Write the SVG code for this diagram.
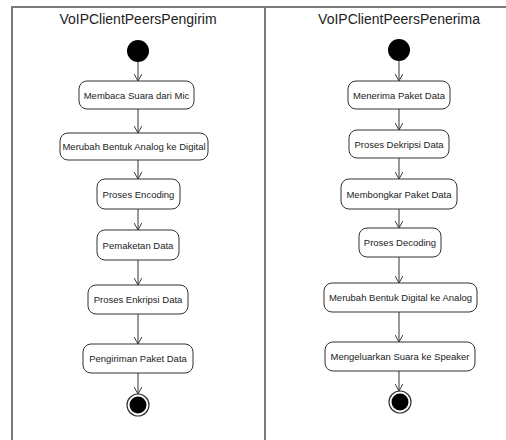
<svg xmlns="http://www.w3.org/2000/svg" width="506" height="440" viewBox="0 0 506 440">
<defs>
<style>
.frame{fill:none;stroke:#7a7a7a;stroke-width:2}
.act{fill:#fff;stroke:#333;stroke-width:1}
.lbl{font-family:"Liberation Sans",Arial,sans-serif;font-size:9.5px;fill:#222;text-anchor:middle;dominant-baseline:central}
.title{font-family:"Liberation Sans",Arial,sans-serif;font-size:14px;fill:#222;text-anchor:middle}
.edge{stroke:#333;stroke-width:1;fill:none;marker-end:url(#arr)}
</style>
<marker id="arr" viewBox="0 0 10 10" refX="9" refY="5" markerWidth="8" markerHeight="8" markerUnits="userSpaceOnUse" orient="auto">
<path d="M0,0 L9,5 L0,10" fill="none" stroke="#333" stroke-width="1.2"/>
</marker>
</defs>
<rect width="506" height="440" fill="#fff"/>
<g id="frame">
<path class="frame" d="M12,441 V7 H506 M265,7 V441"/>
<text class="title" x="138" y="23.5">VoIPClientPeersPengirim</text>
<text class="title" x="399" y="23.5">VoIPClientPeersPenerima</text>
</g>
<g id="connectors">
<line class="edge" x1="138" y1="62" x2="138" y2="81"/>
<line class="edge" x1="138" y1="109" x2="138" y2="133"/>
<line class="edge" x1="138" y1="160" x2="138" y2="179"/>
<line class="edge" x1="138" y1="209" x2="138" y2="230"/>
<line class="edge" x1="138" y1="260" x2="138" y2="285"/>
<line class="edge" x1="138" y1="314" x2="138" y2="344"/>
<line class="edge" x1="138" y1="373" x2="138" y2="394"/>
<line class="edge" x1="399" y1="61" x2="399" y2="81"/>
<line class="edge" x1="399" y1="109" x2="399" y2="130"/>
<line class="edge" x1="399" y1="158" x2="399" y2="179"/>
<line class="edge" x1="399" y1="209" x2="399" y2="228"/>
<line class="edge" x1="399" y1="257" x2="399" y2="283"/>
<line class="edge" x1="399" y1="312" x2="399" y2="342"/>
<line class="edge" x1="399" y1="371" x2="399" y2="391"/>
</g>
<g id="startL"><circle cx="138" cy="51" r="11" fill="#000"/></g>
<g id="a1"><rect class="act" x="79" y="81" width="115" height="28" rx="8"/><text class="lbl" x="136.5" y="95">Membaca Suara dari Mic</text></g>
<g id="a2"><rect class="act" x="60" y="133" width="148" height="27" rx="8"/><text class="lbl" x="134" y="146.5">Merubah Bentuk Analog ke Digital</text></g>
<g id="a3"><rect class="act" x="97" y="179" width="83" height="30" rx="8"/><text class="lbl" x="138.5" y="194">Proses Encoding</text></g>
<g id="a4"><rect class="act" x="97" y="230" width="82" height="30" rx="8"/><text class="lbl" x="138" y="245">Pemaketan Data</text></g>
<g id="a5"><rect class="act" x="88" y="285" width="100" height="29" rx="8"/><text class="lbl" x="138" y="299.5">Proses Enkripsi Data</text></g>
<g id="a6"><rect class="act" x="83" y="344" width="110" height="29" rx="8"/><text class="lbl" x="138" y="358.5">Pengiriman Paket Data</text></g>
<g id="endL"><circle cx="138" cy="405" r="11" fill="#fff" stroke="#333" stroke-width="1.2"/><circle cx="138" cy="405" r="8.5" fill="#000"/></g>
<g id="startR"><circle cx="399" cy="50" r="11" fill="#000"/></g>
<g id="b1"><rect class="act" x="348" y="81" width="102" height="28" rx="8"/><text class="lbl" x="399" y="95">Menerima Paket Data</text></g>
<g id="b2"><rect class="act" x="349" y="130" width="100" height="28" rx="8"/><text class="lbl" x="399" y="144">Proses Dekripsi Data</text></g>
<g id="b3"><rect class="act" x="341" y="179" width="116" height="30" rx="8"/><text class="lbl" x="399" y="194">Membongkar Paket Data</text></g>
<g id="b4"><rect class="act" x="359" y="228" width="82" height="29" rx="8"/><text class="lbl" x="400" y="242.5">Proses Decoding</text></g>
<g id="b5"><rect class="act" x="324" y="283" width="153" height="29" rx="8"/><text class="lbl" x="400.5" y="297.5">Merubah Bentuk Digital ke Analog</text></g>
<g id="b6"><rect class="act" x="325" y="342" width="150" height="29" rx="8"/><text class="lbl" x="400" y="356.5">Mengeluarkan Suara ke Speaker</text></g>
<g id="endR"><circle cx="400" cy="402" r="11" fill="#fff" stroke="#333" stroke-width="1.2"/><circle cx="400" cy="402" r="8.5" fill="#000"/></g>
</svg>
